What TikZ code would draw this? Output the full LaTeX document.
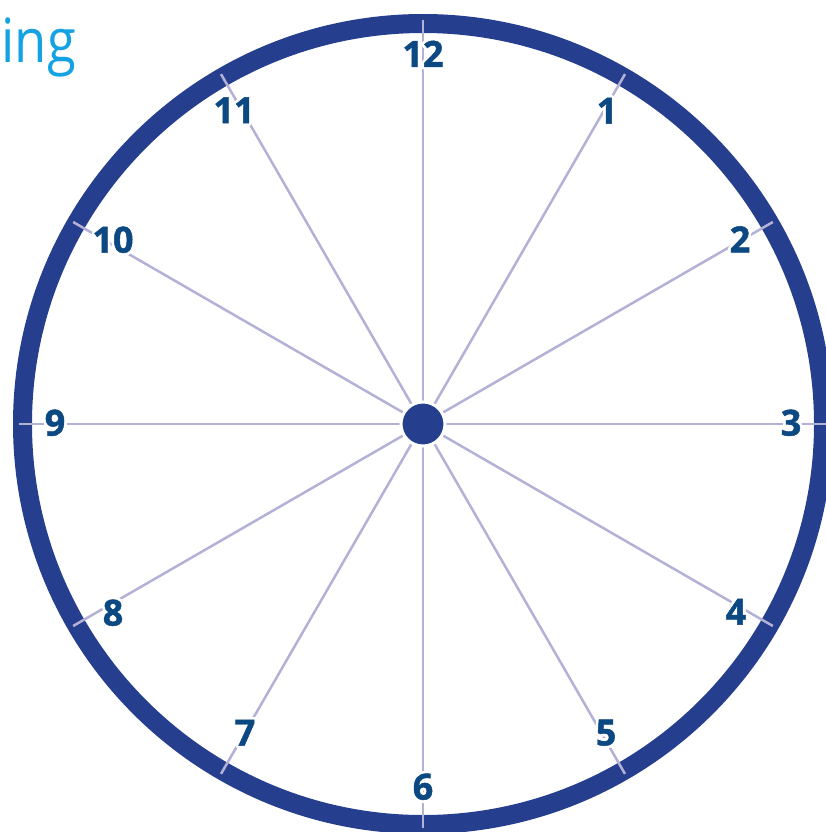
\documentclass[tikz,border=0pt]{standalone}
\usepackage{fontspec}
\setmainfont{Open Sans}
\newfontfamily\numfont[BoldFeatures={FakeBold=1.3}]{Open Sans}
\newfontfamily\titlefont[FakeStretch=0.86]{Open Sans}
\usepackage[copies]{contour}
\contourlength{2.5pt}
\contournumber{32}
\definecolor{ringblue}{RGB}{38,62,142}
\definecolor{spokecol}{RGB}{180,177,215}
\definecolor{numcol}{RGB}{12,72,130}
\definecolor{titlecol}{RGB}{20,162,226}
\begin{document}
\begin{tikzpicture}[x=1pt,y=1pt,
  numlbl/.style={text=numcol, font=\fontsize{36}{36}\numfont\bfseries, inner sep=0pt},
  spokeline/.style={draw=spokecol, line width=2.5pt}]
\useasboundingbox (0,0) rectangle (826,-832);
\coordinate (c) at (423,-424);
\draw[ringblue, line width=19pt] (c) circle[radius=400.5];
\foreach \a in {0,30,...,330} \draw[spokeline] (c) -- ++(\a:404);
\fill[ringblue, draw=white, line width=3pt] (c) circle[radius=22];
\node[numlbl] (n12) at (423,-55) {\contour{white}{12}};
\node[numlbl] (n1) at (607,-112) {\contour{white}{1}};
\node[numlbl] (n2) at (740,-240.5) {\contour{white}{2}};
\node[numlbl] (n3) at (791,-424) {\contour{white}{3}};
\node[numlbl] (n4) at (736,-613) {\contour{white}{4}};
\node[numlbl] (n5) at (606,-734) {\contour{white}{5}};
\node[numlbl] (n6) at (423,-788) {\contour{white}{6}};
\node[numlbl] (n7) at (245,-734) {\contour{white}{7}};
\node[numlbl] (n8) at (113,-614) {\contour{white}{8}};
\node[numlbl] (n9) at (55,-424) {\contour{white}{9}};
\node[numlbl] (n10) at (113,-241) {\contour{white}{10}};
\node[numlbl] (n11) at (234,-111.5) {\contour{white}{11}};
\node[anchor=base east, text=titlecol, font=\fontsize{61}{61}\titlefont, inner sep=0pt] (title) at (76,-63) {ing};
\end{tikzpicture}
\end{document}
